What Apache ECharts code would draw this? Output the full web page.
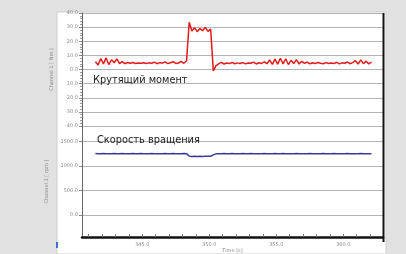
<!DOCTYPE html>
<html><head><meta charset="utf-8">
<script src="https://cdn.jsdelivr.net/npm/echarts@6/dist/echarts.min.js"></script>
<style>html,body{margin:0;padding:0;background:#e1e1e1;}#c{width:406px;height:254px;}</style>
</head><body><div id="c"></div>
<script>
// sampling of the recorded channels
const timeStart = 341.5;
const timeStep = 0.2;
// Channel 1: torque [Nm]
const torque = [
  5.5, 3.2, 7.8, 4.0, 8.2, 3.5, 6.9, 4.8, 7.5, 4.2, 5.6, 4.1, 5.0, 4.4, 4.9, 4.3, 4.6, 4.5, 4.8, 4.2,
  4.7, 4.4, 5.2, 4.1, 4.9, 4.5, 5.4, 4.2, 4.8, 5.5, 4.3, 4.6, 5.8, 4.4, 6.0,
  33.5, 27.2, 29.6, 26.8, 29.0, 27.5, 29.8, 27.0, 28.6,
  -1.0, 2.8,
  4.0, 5.1, 3.9, 4.6, 4.2, 5.0, 4.1, 4.7, 4.3, 4.9, 4.0, 4.6, 4.4, 5.2, 3.9, 4.8, 4.3, 5.4, 4.1,
  6.8, 3.6, 7.4, 3.8, 8.0, 4.0, 7.6, 3.5, 6.5, 4.2, 7.0, 3.9, 5.8,
  4.3, 5.3, 4.0, 4.8, 4.2, 5.0, 4.4, 4.1, 4.9, 4.3, 4.6, 4.2, 5.1, 4.0, 4.7, 4.4, 5.3, 4.1, 4.9, 6.2,
  3.9, 6.8, 4.2, 5.9, 4.0, 5.2
];
// Channel 3: rotation speed [rpm]
const speed = [
  1252, 1248, 1250, 1254, 1247, 1251, 1249, 1253, 1248, 1250, 1252, 1247, 1251, 1249, 1253, 1250, 1248, 1252, 1249, 1251,
  1247, 1253, 1250, 1248, 1251, 1249, 1252, 1250, 1247, 1253, 1249, 1251, 1248, 1252, 1250,
  1200, 1192, 1196, 1193, 1197, 1194, 1196, 1195, 1198,
  1225, 1247,
  1251, 1249, 1253, 1248, 1250, 1252, 1249, 1251, 1247, 1252, 1250, 1248, 1253, 1249, 1251, 1250, 1248, 1252, 1249,
  1251, 1247, 1253, 1250, 1248, 1252, 1249, 1251, 1250, 1247, 1252, 1249, 1251,
  1250, 1248, 1252, 1249, 1251, 1250, 1247, 1253, 1249, 1251, 1248, 1252, 1250, 1249, 1251, 1248, 1252, 1250, 1249, 1251,
  1248, 1252, 1250, 1249, 1251, 1250
];
const torqueTicks = [-40, -30, -20, -10, 0, 10, 20, 30, 40];
const speedTicks = [0, 500, 1000, 1500];
const timeLabels = [345, 350, 355, 360];
const timeMinorTicks = [341,342,343,344,345,346,347,348,349,350,351,352,353,354,355,356,357,358,359,360,361,362];
const labelTorque = 'Крутящий момент';
const labelSpeed = 'Скорость вращения';

const pairs = arr => arr.map((v, i) => [+(timeStart + i * timeStep).toFixed(2), v]);

const chart = echarts.init(document.getElementById('c'), null, {renderer: 'canvas'});
const lblStyle = {fontSize: 5, color: '#8a8a8a', fontFamily: 'DejaVu Sans'};
const gridLine = {show: true, lineStyle: {color: '#b4b4b4', width: 1}};
chart.setOption({
  backgroundColor: '#e1e1e1',
  animation: false,
  graphic: [
    {type: 'rect', z: -10, shape: {x: 57, y: 12, width: 329, height: 242}, style: {fill: '#ffffff', stroke: '#cfcfcf', lineWidth: 1}},
    {type: 'rect', z: 5, shape: {x: 56, y: 242, width: 2, height: 6}, style: {fill: '#3a6fd0'}},
    {type: 'line', z: 20, shape: {x1: 383.5, y1: 13, x2: 383.5, y2: 242}, style: {stroke: '#111', lineWidth: 2}},
    {type: 'text', z: 30, left: 93, top: 75, style: {text: labelTorque, fontSize: 9.8, fontFamily: 'DejaVu Sans', fill: '#1a1a1a'}},
    {type: 'text', z: 30, left: 97, top: 135, style: {text: labelSpeed, fontSize: 9.8, fontFamily: 'DejaVu Sans', fill: '#1a1a1a'}}
  ],
  grid: [
    {left: 82, right: 23, top: 13, height: 113, containLabel: false},
    {left: 82, right: 23, top: 126, height: 115, containLabel: false}
  ],
  xAxis: [
    {gridIndex: 0, type: 'value', min: 340.5, max: 362.96, show: false, splitLine: {show: false}},
    {gridIndex: 1, type: 'value', min: 340.5, max: 362.96,
      name: 'Time [s]', nameLocation: 'middle', nameGap: 11, nameTextStyle: lblStyle,
      axisLine: {onZero: false, lineStyle: {color: '#111', width: 2.5}},
      axisTick: {inside: true, length: 3, lineStyle: {color: '#777'}, customValues: timeMinorTicks},
      axisLabel: Object.assign({margin: 5, formatter: v => v.toFixed(1), customValues: timeLabels}, lblStyle),
      splitLine: {show: false}}
  ],
  yAxis: [
    {gridIndex: 0, type: 'value', min: -40, max: 40, interval: 10,
      name: 'Channel 1 [ Nm ]', nameLocation: 'middle', nameGap: 18, nameTextStyle: lblStyle,
      axisLine: {show: true, onZero: false, lineStyle: {color: '#666', width: 1}},
      axisTick: {show: true, length: 3, lineStyle: {color: '#888'}},
      minorTick: {show: true, splitNumber: 5, length: 2, lineStyle: {color: '#999'}},
      axisLabel: Object.assign({margin: 4, formatter: v => v.toFixed(1), customValues: torqueTicks}, lblStyle),
      splitLine: gridLine},
    {gridIndex: 1, type: 'value', min: -454, max: 1816,
      name: 'Channel 3 [ rpm ]', nameLocation: 'middle', nameGap: 20, nameTextStyle: lblStyle,
      axisLine: {show: true, onZero: false, lineStyle: {color: '#666', width: 1}},
      axisTick: {show: true, length: 3, lineStyle: {color: '#888'}, customValues: speedTicks},
      axisLabel: Object.assign({margin: 4, formatter: v => v.toFixed(1), customValues: speedTicks}, lblStyle),
      splitLine: gridLine}
  ],
  series: [
    {type: 'line', xAxisIndex: 0, yAxisIndex: 0, data: pairs(torque), showSymbol: false,
      lineStyle: {color: '#e41b1b', width: 1.5}, z: 10},
    {type: 'line', xAxisIndex: 1, yAxisIndex: 1, data: pairs(speed), showSymbol: false,
      lineStyle: {color: '#3b3b98', width: 1.5}, z: 10}
  ]
});
</script></body></html>
